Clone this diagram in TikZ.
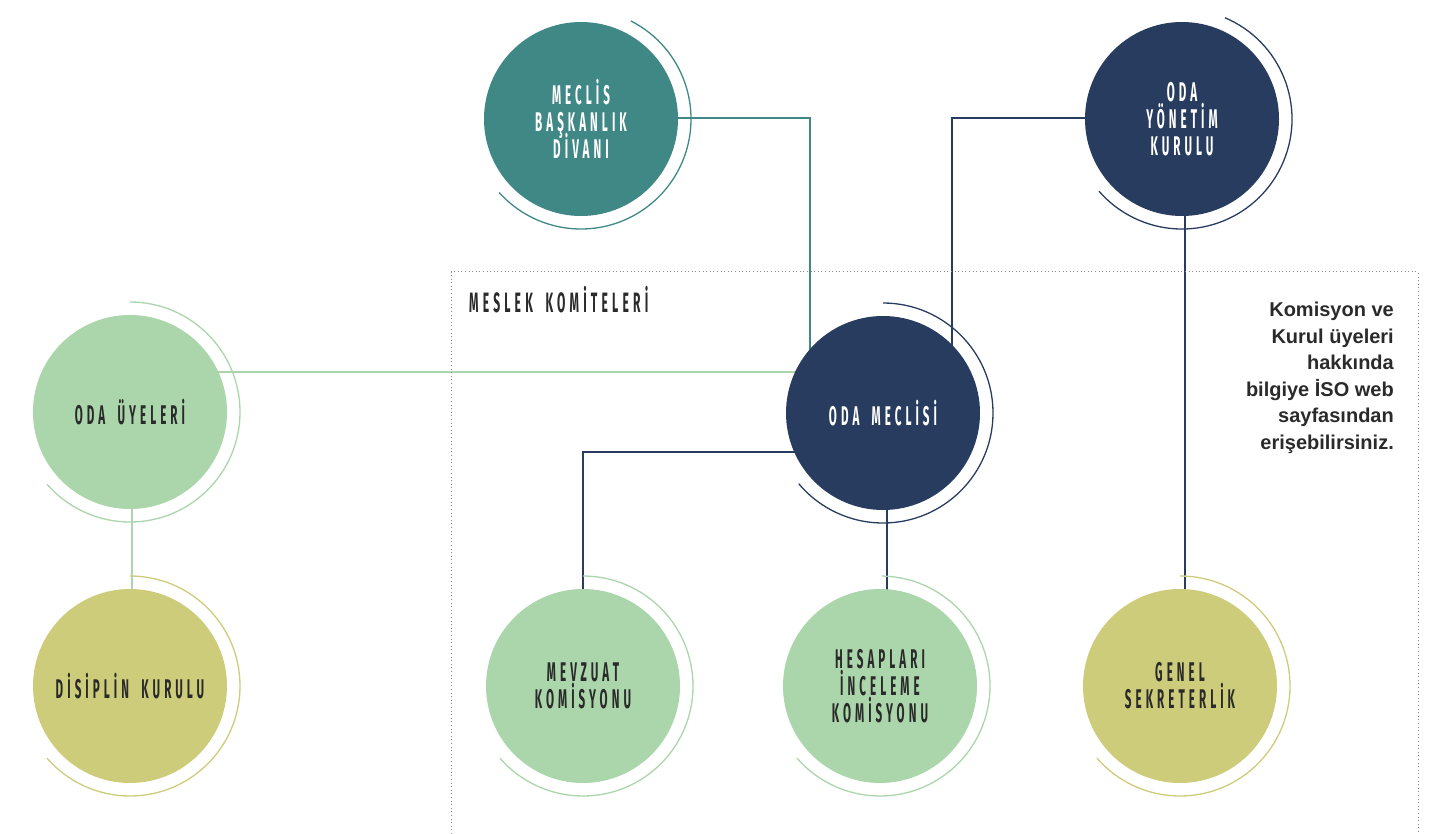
\documentclass[tikz,border=0pt]{standalone}
\usepackage{fontspec}
\usetikzlibrary{backgrounds}
\newfontfamily\circfont[FakeStretch=0.43,LetterSpace=15,WordSpace=1.8]{Fira Sans}
\newfontfamily\notefont{Liberation Sans}
\definecolor{cteal}{HTML}{3F8886}
\definecolor{cnavy}{HTML}{283C5F}
\definecolor{cgreen}{HTML}{ABD5AB}
\definecolor{colive}{HTML}{CCCC7A}
\definecolor{ctext}{HTML}{2A2A2A}
\definecolor{cdots}{HTML}{8A8A8A}
\begin{document}
\begin{tikzpicture}[x=1pt,y=-1pt,
  orgc/.style={circle, minimum size=194pt, inner sep=0pt, draw=none, align=center,
    font={\circfont\bfseries\fontsize{27}{27}\selectfont\lineskiplimit=-100pt\lineskip=0pt}},
  darktxt/.style={text=ctext},
  lighttxt/.style={text=white},
  ring/.style={line width=1.3pt},
  conn/.style={line width=1.1pt},
]
\useasboundingbox (0,0) rectangle (1443,834);

% dotted frame of committees
\draw[cdots, line width=1pt, dash pattern=on 1pt off 2.6pt] (451,834) -- (451,272) -- (1418,272) -- (1418,834);
\node[anchor=west, inner sep=0pt, text=ctext, font=\circfont\bfseries\fontsize{28}{27}\selectfont] (mk) at (469,300) {MESLEK KOMİTELERİ};

% circles
\node[orgc, fill=cteal, lighttxt] (mbd) at (581,119) {MECLİS\\BAŞKANLIK\\DİVANI};
\node[orgc, fill=cnavy, lighttxt] (oyk) at (1182,119) {ODA\\YÖNETİM\\KURULU};
\node[orgc, fill=cnavy, lighttxt] (om) at (883,413) {ODA MECLİSİ};
\node[orgc, fill=cgreen, darktxt] (uye) at (130,412) {ODA ÜYELERİ};
\node[orgc, fill=colive, darktxt] (dis) at (130,686) {DİSİPLİN KURULU};
\node[orgc, fill=cgreen, darktxt] (mev) at (583,686) {MEVZUAT\\KOMİSYONU};
\node[orgc, fill=cgreen, darktxt] (hes) at (880,686) {HESAPLARI\\İNCELEME\\KOMİSYONU};
\node[orgc, fill=colive, darktxt] (gs) at (1180,686) {GENEL\\SEKRETERLİK};

% note
\node[anchor=north east, inner sep=0pt, align=right, text=ctext,
  font=\notefont\bfseries\fontsize{20}{26.5}\selectfont] (note) at (1394,302)
  {Komisyon ve\\Kurul üyeleri\\hakkında\\bilgiye İSO web\\sayfasından\\erişebilirsiniz.};

% junction points
\coordinate (j1) at (810,118);
\coordinate (j2) at (952,118);
\coordinate (j3) at (583,452);
\coordinate (j4) at (887,413);
\coordinate (j5) at (1185,118);
\coordinate (j6) at (132,412);

\begin{pgfonlayer}{background}
  % connectors
  \draw[conn, cteal] (j1 -| mbd.center) -- (j1) -- (j1 |- om.center);
  \draw[conn, cnavy] (j2 -| oyk.center) -- (j2) -- (j2 |- om.center);
  \draw[conn, cgreen] (uye.center |- 0,372) -- (om.center |- 0,372);
  \draw[conn, cgreen] (j6) -- (j6 |- dis.center);
  \draw[conn, cnavy] (j3 -| om.center) -- (j3) -- (j3 |- mev.center);
  \draw[conn, cnavy] (j4) -- (j4 |- hes.center);
  \draw[conn, cnavy] (j5) -- (j5 |- gs.center);
\end{pgfonlayer}

% rings
\draw[ring, cteal] (mbd.center) ++(-63:110) arc[start angle=-63, end angle=138, radius=110];
\draw[ring, cnavy] (oyk.center) ++(-67:110) arc[start angle=-67, end angle=139, radius=110];
\draw[ring, cnavy] (om.center) ++(-90:110) arc[start angle=-90, end angle=140, radius=110];
\draw[ring, cgreen] (uye.center) ++(-90:110) arc[start angle=-90, end angle=139, radius=110];
\draw[ring, colive] (dis.center) ++(-90:110) arc[start angle=-90, end angle=139, radius=110];
\draw[ring, cgreen] (mev.center) ++(-90:110) arc[start angle=-90, end angle=139, radius=110];
\draw[ring, cgreen] (hes.center) ++(-89:110) arc[start angle=-89, end angle=139, radius=110];
\draw[ring, colive] (gs.center) ++(-90:110) arc[start angle=-90, end angle=139, radius=110];
\end{tikzpicture}
\end{document}
